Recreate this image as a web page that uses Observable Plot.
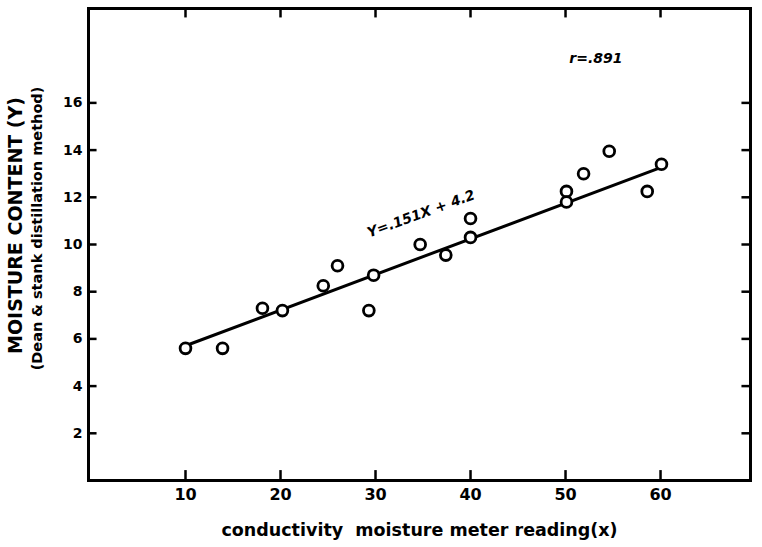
<!DOCTYPE html>
<html>
<head>
<meta charset="utf-8">
<script src="https://cdn.jsdelivr.net/npm/d3@7"></script>
<script src="https://cdn.jsdelivr.net/npm/@observablehq/plot@0.6"></script>
<style>
  html, body { margin: 0; padding: 0; background: #fff; }
  #chart svg { display: block; }
</style>
</head>
<body>
<div id="chart"></div>
<script>
// Data
const meterReading = [10, 13.9, 18.1, 20.2, 24.5, 26, 29.3, 29.8, 34.7, 37.4, 40, 40, 50.1, 50.1, 51.9, 54.6, 58.6, 60.1];
const moistureContent = [5.6, 5.6, 7.3, 7.2, 8.25, 9.1, 7.2, 8.7, 10.0, 9.55, 11.1, 10.3, 12.25, 11.8, 13.0, 13.95, 12.25, 13.4];
const fitX = [10, 60];
const fitY = [5.71, 13.26];
const xTicks = [10, 20, 30, 40, 50, 60];
const yTicks = [2, 4, 6, 8, 10, 12, 14, 16];
const equationLabel = ["Y=.151X + 4.2"];
const equationPos = [34.8, 11.3];
const rLabel = ["r=.891"];
const rPos = [53.2, 17.9];
const yTitle1 = ["MOISTURE CONTENT (Y)"];
const yTitle2 = ["(Dean & stank distillation method)"];
const xTitle = ["conductivity  moisture meter reading(x)"];

const points = meterReading.map((x, i) => ({x, y: moistureContent[i]}));
const fit = fitX.map((x, i) => ({x, y: fitY[i]}));

const xMin = -0.21, xMax = 69.47;
const font = "DejaVu Sans";

const chart = Plot.plot({
  width: 762,
  height: 547,
  marginLeft: 88,
  marginRight: 12,
  marginTop: 8,
  marginBottom: 67,
  style: {fontFamily: font, background: "#fff", color: "#000"},
  x: {domain: [xMin, xMax]},
  y: {domain: [0, 20]},
  marks: [
    Plot.frame({stroke: "#000", strokeWidth: 3}),
    // inward ticks
    Plot.ruleX(xTicks, {x: d => d, y1: 0, y2: 0.42, stroke: "#000", strokeWidth: 2.5}),
    Plot.ruleX(xTicks, {x: d => d, y1: 20, y2: 19.6, stroke: "#000", strokeWidth: 2.5}),
    Plot.ruleY(yTicks, {y: d => d, x1: xMin, x2: xMin + 0.9, stroke: "#000", strokeWidth: 2.5}),
    Plot.ruleY(yTicks, {y: d => d, x1: xMax, x2: xMax - 0.9, stroke: "#000", strokeWidth: 2.5}),
    Plot.axisX({ticks: xTicks, tickSize: 0, tickPadding: 8, label: null, fontSize: 16, fontWeight: "bold", fontFamily: font}),
    Plot.axisY({ticks: yTicks, tickSize: 0, tickPadding: 6, label: null, fontSize: 14, fontWeight: "bold", fontFamily: font}),
    // regression line
    Plot.line(fit, {x: "x", y: "y", stroke: "#000", strokeWidth: 3}),
    // data points
    Plot.dot(points, {x: "x", y: "y", r: 5.4, stroke: "#000", strokeWidth: 2.8, fill: "#fff"}),
    // annotations
    Plot.text(equationLabel, {x: () => equationPos[0], y: () => equationPos[1], text: d => d, rotate: -20, fontSize: 14, fontWeight: "bold", fontStyle: "italic", fill: "#000"}),
    Plot.text(rLabel, {x: () => rPos[0], y: () => rPos[1], text: d => d, fontSize: 14, fontWeight: "bold", fontStyle: "italic", fill: "#000"}),
    // axis titles
    Plot.text(yTitle1, {frameAnchor: "left", textAnchor: "middle", text: d => d, dx: -73, dy: -19, rotate: -90, fontSize: 19, fontWeight: "bold", fill: "#000"}),
    Plot.text(yTitle2, {frameAnchor: "left", textAnchor: "middle", text: d => d, dx: -51, dy: -16, rotate: -90, fontSize: 14.5, fontWeight: "bold", fill: "#000"}),
    Plot.text(xTitle, {frameAnchor: "bottom", text: d => d, dy: 55, fontSize: 17.5, fontWeight: "bold", fill: "#000"})
  ]
});
document.getElementById("chart").appendChild(chart);
</script>
</body>
</html>
